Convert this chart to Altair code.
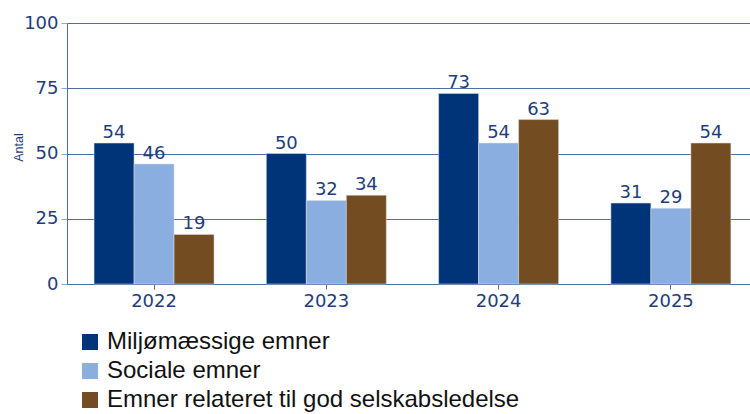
import altair as alt
import pandas as pd

years = ["2022", "2023", "2024", "2025"]
series = ["Miljømæssige emner", "Sociale emner", "Emner relateret til god selskabsledelse"]
miljo = [54, 50, 73, 31]
sociale = [46, 32, 54, 29]
ledelse = [19, 34, 63, 54]
colors = ["#003478", "#8aaee0", "#734c21"]

rows = []
for i, y in enumerate(years):
    for s, vals in zip(series, [miljo, sociale, ledelse]):
        rows.append({"År": y, "Serie": s, "Antal": vals[i]})
df = pd.DataFrame(rows)

FONT = "DejaVu Sans"
LFONT = "Liberation Sans"
TXT = "#1f3d7a"

x = alt.X("År:N", sort=years, title=None,
          scale=alt.Scale(paddingInner=0.3035, paddingOuter=0.134, align=0.586),
          axis=alt.Axis(labelAngle=0, labelFontSize=18, labelColor=TXT, labelFont=FONT,
                        domainColor="#4a6fa5", tickColor="#4a6fa5", tickSize=5, labelPadding=3))
xo = alt.XOffset("Serie:N", sort=series)
y = alt.Y("Antal:Q", scale=alt.Scale(domain=[0, 100]), title="Antal",
          axis=alt.Axis(values=[0, 25, 50, 75, 100], labelFontSize=18, labelColor=TXT, labelFont=FONT,
                        titleFontSize=12.5, titleColor=TXT, titleFont=LFONT, titleFontWeight=500,
                        titleX=-45, titleY=124, titleAngle=270, titleAlign="center", titleBaseline="alphabetic",
                        domainColor="#4a6fa5", tickColor="#8fa8c8", tickSize=6,
                        gridColor="#4a6fa5", gridWidth=1, labelPadding=3))

bars = alt.Chart(df).mark_bar(stroke="#e0e0e0", strokeWidth=0.5).encode(
    x=x, xOffset=xo, y=y,
    color=alt.Color("Serie:N", sort=series, scale=alt.Scale(domain=series, range=colors),
                    legend=alt.Legend(title=None, orient="none", legendX=11, legendY=307,
                                      symbolType="square", symbolSize=256, symbolStrokeWidth=0,
                                      labelFontSize=24, labelFont=LFONT, labelColor="#111111",
                                      rowPadding=5, labelLimit=700, labelOffset=5))
)
text = alt.Chart(df).mark_text(dy=-5, baseline="alphabetic", fontSize=18, font=FONT, color=TXT).encode(
    x=x, xOffset=xo, y=y, text="Antal:Q"
)

chart = (bars + text).properties(
    width=683, height=261,
    autosize=alt.AutoSizeParams(type="none"),
    padding={"left": 67, "top": 23, "right": 0, "bottom": 130},
).configure_view(stroke=None).configure(background="white")

chart.save("out.html", embed_options={"renderer": "svg", "actions": False})
